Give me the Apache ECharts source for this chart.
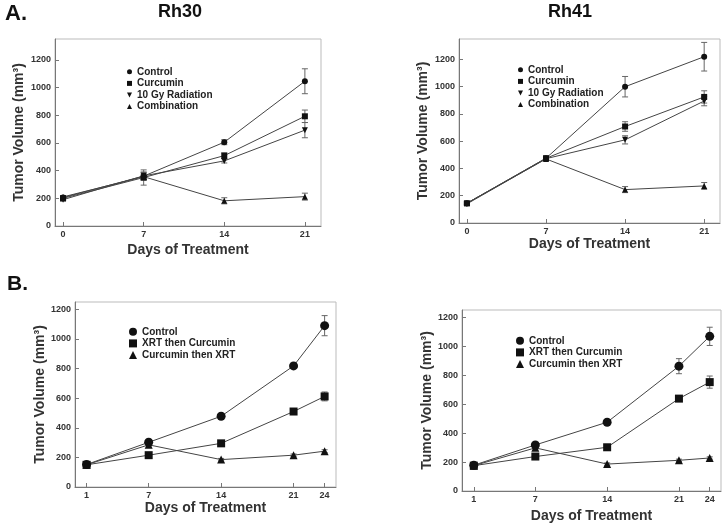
<!DOCTYPE html>
<html><head><meta charset="utf-8">
<script src="https://cdn.jsdelivr.net/npm/echarts@6/dist/echarts.min.js"></script>
<style>html,body{margin:0;padding:0;background:#fff}#c{width:726px;height:525px}</style>
</head><body><div id="c"></div>
<script>
// ---- Data ----
const daysA = [0, 7, 14, 21];
const daysB = [1, 7, 14, 21, 24];
const namesA = ['Control', 'Curcumin', '10 Gy Radiation', 'Combination'];
const namesB = ['Control', 'XRT then Curcumin', 'Curcumin then XRT'];
const yTicks = [0, 200, 400, 600, 800, 1000, 1200];

// Rh30 (panel A left)
const rh30Control = [205, 360, 605, 1045];
const rh30Curcumin = [200, 350, 508, 792];
const rh30Radiation = [190, 362, 470, 692];
const rh30Combination = [210, 356, 182, 212];
const rh30ControlErr = [10, 30, 18, 90];
const rh30CurcuminErr = [15, 55, 20, 45];
const rh30RadiationErr = [10, 25, 15, 55];
const rh30CombinationErr = [10, 20, 22, 25];

// Rh41 (panel A right)
const rh41Control = [145, 475, 1000, 1220];
const rh41Curcumin = [145, 475, 708, 925];
const rh41Radiation = [140, 472, 610, 895];
const rh41Combination = [145, 470, 245, 272];
const rh41ControlErr = [10, 10, 75, 105];
const rh41CurcuminErr = [10, 10, 35, 45];
const rh41RadiationErr = [10, 10, 30, 35];
const rh41CombinationErr = [10, 10, 22, 25];

// Panel B left
const bLControl = [152, 302, 478, 818, 1090];
const bLXrtCur = [150, 215, 295, 510, 612];
const bLCurXrt = [150, 285, 185, 215, 242];
const bLControlErr = [10, 10, 10, 12, 68];
const bLXrtCurErr = [10, 8, 10, 10, 30];
const bLCurXrtErr = [8, 8, 8, 8, 10];

// Panel B right
const bRControl = [178, 318, 475, 862, 1068];
const bRXrtCur = [175, 238, 302, 638, 752];
const bRCurXrt = [175, 298, 186, 212, 228];
const bRControlErr = [8, 10, 12, 52, 63];
const bRXrtCurErr = [8, 8, 8, 20, 42];
const bRCurXrtErr = [8, 8, 8, 8, 8];

// ---- Build ----
const FONT = '"Liberation Sans", Arial, sans-serif';
const downTri = 'path://M0,0L2,0L1,2Z';
const symA = ['circle', 'rect', downTri, 'triangle'];
const symB = ['circle', 'rect', 'triangle'];

const grids = [
  {left: 55, top: 39, width: 266, height: 187},
  {left: 459, top: 39, width: 261, height: 184},
  {left: 75, top: 302, width: 261, height: 185},
  {left: 462, top: 310, width: 259, height: 181}
];
const xRanges = [[-0.7, 22.4], [-0.7, 22.4], [-0.12, 25.1], [-0.15, 25.1]];
const yMax = [1350, 1350, 1250, 1250];
const xNameGap = [17, 9, 13, 18];
const yNameGap = [29, 29, 28, 20];

const xAxes = [], yAxes = [];
for (let i = 0; i < 4; i++) {
  const ticks = i < 2 ? daysA : daysB;
  xAxes.push({
    type: 'value', gridIndex: i, min: xRanges[i][0], max: xRanges[i][1],
    name: 'Days of Treatment', nameLocation: 'middle', nameGap: xNameGap[i],
    nameTextStyle: {fontFamily: FONT, fontWeight: 'bold', fontSize: 14, color: '#333'},
    axisLine: {show: true, onZero: false, lineStyle: {color: '#777', width: 1}},
    axisTick: {show: true, inside: true, length: 4, customValues: ticks, lineStyle: {color: '#777'}},
    axisLabel: {customValues: ticks, formatter: v => String(v), fontFamily: FONT, fontWeight: 'bold', fontSize: 9, color: '#333', margin: 4},
    splitLine: {show: false}
  });
  yAxes.push({
    type: 'value', gridIndex: i, min: 0, max: yMax[i],
    name: 'Tumor Volume (mm³)', nameLocation: 'middle', nameGap: yNameGap[i], nameRotate: 90,
    nameTextStyle: {fontFamily: FONT, fontWeight: 'bold', fontSize: 14, color: '#333'},
    axisLine: {show: true, onZero: false, lineStyle: {color: '#777', width: 1}},
    axisTick: {show: true, inside: true, length: 4, customValues: yTicks, lineStyle: {color: '#777'}},
    axisLabel: {customValues: yTicks, formatter: v => String(v), fontFamily: FONT, fontWeight: 'bold', fontSize: 9, color: '#333', margin: 4},
    splitLine: {show: false}
  });
}

const panels = [
  {days: daysA, names: namesA, syms: symA, size: 6, vals: [rh30Control, rh30Curcumin, rh30Radiation, rh30Combination], errs: [rh30ControlErr, rh30CurcuminErr, rh30RadiationErr, rh30CombinationErr]},
  {days: daysA, names: namesA, syms: symA, size: 6, vals: [rh41Control, rh41Curcumin, rh41Radiation, rh41Combination], errs: [rh41ControlErr, rh41CurcuminErr, rh41RadiationErr, rh41CombinationErr]},
  {days: daysB, names: namesB, syms: symB, size: 8, vals: [bLControl, bLXrtCur, bLCurXrt], errs: [bLControlErr, bLXrtCurErr, bLCurXrtErr]},
  {days: daysB, names: namesB, syms: symB, size: 8, vals: [bRControl, bRXrtCur, bRCurXrt], errs: [bRControlErr, bRXrtCurErr, bRCurXrtErr]}
];

const series = [];
panels.forEach((p, gi) => {
  p.vals.forEach((v, si) => {
    const err = p.errs[si];
    series.push({
      type: 'custom', xAxisIndex: gi, yAxisIndex: gi, z: 1, silent: true,
      data: p.days.map((d, k) => [d, v[k] - err[k], v[k] + err[k]]),
      renderItem: function (params, api) {
        const lo = api.coord([api.value(0), api.value(1)]);
        const hi = api.coord([api.value(0), api.value(2)]);
        const w = 3;
        const st = {stroke: '#666', lineWidth: 1};
        return {type: 'group', children: [
          {type: 'line', shape: {x1: lo[0], y1: lo[1], x2: hi[0], y2: hi[1]}, style: st},
          {type: 'line', shape: {x1: lo[0] - w, y1: lo[1], x2: lo[0] + w, y2: lo[1]}, style: st},
          {type: 'line', shape: {x1: hi[0] - w, y1: hi[1], x2: hi[0] + w, y2: hi[1]}, style: st}
        ]};
      }
    });
    let sz = p.size;
    if (gi >= 2 && si === 0) sz = 9;
    series.push({
      name: p.names[si], type: 'line', xAxisIndex: gi, yAxisIndex: gi, z: 3,
      data: p.days.map((d, k) => [d, v[k]]),
      symbol: p.syms[si], symbolSize: sz, showSymbol: true,
      lineStyle: {color: '#444', width: 1},
      itemStyle: {color: '#111'},
      emphasis: {disabled: true}, animation: false
    });
  });
});

function mkLegend(names, syms, left, top, size) {
  return {
    orient: 'vertical', left: left, top: top, itemGap: 0, itemWidth: size, itemHeight: size,
    selectedMode: false,
    textStyle: {fontFamily: FONT, fontWeight: 'bold', fontSize: 10, color: '#222', lineHeight: 11.6},
    data: names.map((n, i) => ({name: n, icon: syms[i], itemStyle: {color: '#111'}}))
  };
}

const option = {
  animation: false,
  grid: grids.map(g => Object.assign({show: true, borderColor: '#bbb', borderWidth: 1, backgroundColor: 'transparent'}, g)),
  xAxis: xAxes, yAxis: yAxes, series: series,
  legend: [
    mkLegend(namesA, symA, 122, 61, 5),
    mkLegend(namesA, symA, 513, 59, 5),
    mkLegend(namesB, symB, 124, 321, 8),
    mkLegend(namesB, symB, 511, 330, 8)
  ],
  graphic: [
    {type: 'text', left: 5, top: 3, style: {text: 'A.', font: 'bold 22px ' + FONT, fill: '#111'}},
    {type: 'text', left: 7, top: 274, style: {text: 'B.', font: 'bold 21px ' + FONT, fill: '#111'}},
    {type: 'text', x: 180, y: 12, style: {text: 'Rh30', font: 'bold 18px ' + FONT, fill: '#111', textAlign: 'center', textVerticalAlign: 'middle'}},
    {type: 'text', x: 570, y: 12, style: {text: 'Rh41', font: 'bold 18px ' + FONT, fill: '#111', textAlign: 'center', textVerticalAlign: 'middle'}}
  ]
};
const chart = echarts.init(document.getElementById('c'), null, {renderer: 'canvas'});
chart.setOption(option);
</script></body></html>
